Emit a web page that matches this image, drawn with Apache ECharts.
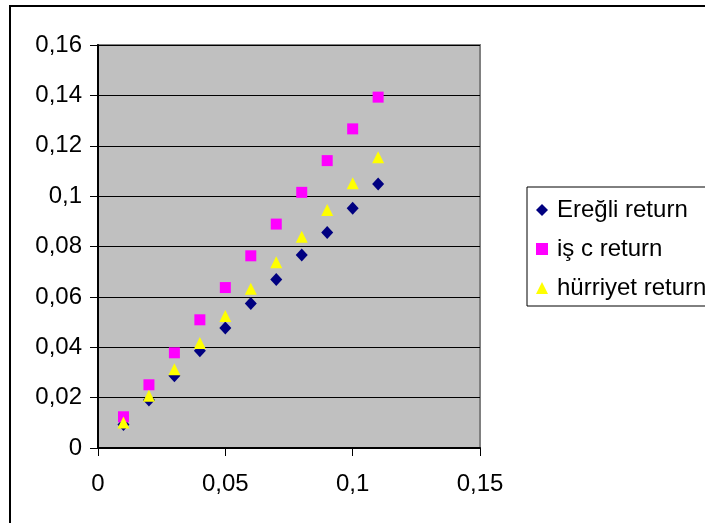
<!DOCTYPE html>
<html>
<head>
<meta charset="utf-8">
<title>Return scatter</title>
<script src="https://cdn.jsdelivr.net/npm/echarts@6/dist/echarts.min.js"></script>
<style>
  html, body { margin: 0; padding: 0; background: #fff; }
  #chart { width: 705px; height: 523px; }
</style>
</head>
<body>
<div id="chart"></div>
<script>
// x values shared by all three series
const xValues = [0.01, 0.02, 0.03, 0.04, 0.05, 0.06, 0.07, 0.08, 0.09, 0.10, 0.11];

const seriesNames = ['Ereğli return', 'iş c return', 'hürriyet return'];

const eregliReturn   = [0.0093, 0.0191, 0.0287, 0.0386, 0.0476, 0.0574, 0.0669, 0.0766, 0.0856, 0.0952, 0.1048];
const iscReturn      = [0.0124, 0.0251, 0.0378, 0.0509, 0.0637, 0.0763, 0.0889, 0.1015, 0.1141, 0.1267, 0.1393];
const hurriyetReturn = [0.0101, 0.0207, 0.0313, 0.0417, 0.0524, 0.0632, 0.0737, 0.0839, 0.0945, 0.1051, 0.1154];

const xTicks = [0, 0.05, 0.1, 0.15];
const yTicks = [0, 0.02, 0.04, 0.06, 0.08, 0.1, 0.12, 0.14, 0.16];

const pairs = ys => xValues.map((x, i) => [x, ys[i]]);
const commaFmt = v => String(Number(v.toFixed(4))).replace('.', ',');

const FONT = 'Liberation Sans, Arial, sans-serif';
const FONT_SIZE = 24;

const chart = echarts.init(document.getElementById('chart'), null, { renderer: 'canvas' });

chart.setOption({
  animation: false,
  backgroundColor: '#ffffff',
  graphic: [{
    type: 'rect',
    shape: { x: 10, y: 6, width: 760, height: 600 },
    style: { fill: 'none', stroke: '#000000', lineWidth: 2 },
    silent: true,
    z: 100
  }],
  grid: {
    left: 98, right: 225, top: 45, bottom: 75,
    show: true,
    backgroundColor: '#C0C0C0',
    borderColor: '#808080',
    borderWidth: 2
  },
  legend: {
    orient: 'vertical',
    left: 527, top: 187,
    padding: [10, 10, 5, 9],
    borderColor: '#000000',
    borderWidth: 1,
    itemWidth: 12, itemHeight: 12,
    itemGap: 13,
    textStyle: {
      fontFamily: FONT, fontSize: FONT_SIZE, color: '#000', lineHeight: 26,
      padding: [0, 0, 0, 4]
    },
    data: [
      { name: seriesNames[0], icon: 'diamond' },
      { name: seriesNames[1], icon: 'rect' },
      { name: seriesNames[2], icon: 'triangle' }
    ]
  },
  xAxis: {
    type: 'value',
    min: 0, max: 0.15, interval: 0.05,
    axisLine: { show: true, onZero: false, lineStyle: { color: '#000', width: 2 } },
    axisTick: { show: true, inside: false, length: 8, lineStyle: { color: '#000' } },
    axisLabel: {
      margin: 24, fontFamily: FONT, fontSize: FONT_SIZE, color: '#000',
      formatter: v => xTicks.includes(Number(v.toFixed(4))) ? commaFmt(v) : ''
    },
    splitLine: { show: false }
  },
  yAxis: {
    type: 'value',
    min: 0, max: 0.16, interval: 0.02,
    axisLine: { show: true, onZero: false, lineStyle: { color: '#000', width: 2 } },
    axisTick: { show: true, inside: false, length: 8, lineStyle: { color: '#000' } },
    axisLabel: {
      margin: 16, fontFamily: FONT, fontSize: FONT_SIZE, color: '#000',
      formatter: v => yTicks.includes(Number(v.toFixed(4))) ? commaFmt(v) : ''
    },
    splitLine: { show: true, lineStyle: { color: '#000', width: 1 } }
  },
  series: [
    {
      name: seriesNames[0], type: 'scatter', symbol: 'diamond', symbolSize: [12, 13],
      itemStyle: { color: '#000080', opacity: 1 },
      data: pairs(eregliReturn), z: 2
    },
    {
      name: seriesNames[1], type: 'scatter', symbol: 'rect', symbolSize: [11, 11],
      itemStyle: { color: '#FF00FF', opacity: 1 },
      data: pairs(iscReturn), z: 3
    },
    {
      name: seriesNames[2], type: 'scatter', symbol: 'triangle', symbolSize: [12, 12],
      itemStyle: { color: '#FFFF00', opacity: 1 },
      data: pairs(hurriyetReturn), z: 4
    }
  ]
});
</script>
</body>
</html>
